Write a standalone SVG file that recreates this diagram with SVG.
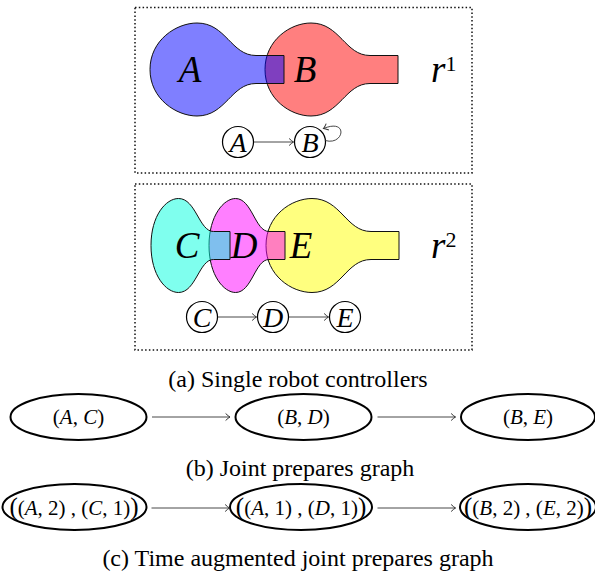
<svg xmlns="http://www.w3.org/2000/svg" width="595" height="581" viewBox="0 0 595 581">
<defs>
<style>
.box{fill:none;stroke:#111;stroke-width:1.5;stroke-dasharray:1.5 2.3}
.sh{stroke:#111;stroke-width:1;fill-opacity:0.5}
.big{font-family:"Liberation Serif",serif;font-style:italic;font-size:37px;fill:#000}
.sm{font-family:"Liberation Serif",serif;font-style:italic;font-size:28px;fill:#000}
.nd{fill:#fff;stroke:#000;stroke-width:1.2}
.el{fill:#fff;stroke:#000;stroke-width:2}
.m{font-family:"Liberation Serif",serif;font-size:21px;fill:#000}
.i{font-style:italic}
.cap{font-family:"Liberation Serif",serif;font-size:24px;fill:#000}
.ar{fill:none;stroke:#333;stroke-width:0.9}
</style>
<marker id="to" markerUnits="userSpaceOnUse" markerWidth="10" markerHeight="10" viewBox="-5 -4 6 8" refX="0" refY="0" orient="auto">
<path d="M-3.5,-2.8 Q-1.2,-0.6 0,0 Q-1.2,0.6 -3.5,2.8" fill="none" stroke="#333" stroke-width="0.8"/>
</marker>
</defs>

<g id="panel-a">
<rect class="box" x="135" y="7.5" width="337" height="165.5"/>
<g id="shape-B">
<path class="sh" fill="#ff0000" d="M398,55.5 L370,55.5 C345,55.5 340,23 311,23 C290.5,23 265,40 265,69.5 C265,99 290.5,116 311,116 C340,116 345,83.5 370,83.5 L398,83.5 Z"/>
</g>
<g id="shape-A">
<path class="sh" fill="#0000ff" d="M284,55.5 L256,55.5 C231,55.5 226,23 197,23 C176.5,23 150,40 150,69.5 C150,99 176.5,116 197,116 C226,116 231,83.5 256,83.5 L284,83.5 Z"/>
</g>
<text class="big" x="190" y="82" text-anchor="middle">A</text>
<text class="big" x="305" y="82" text-anchor="middle">B</text>
<text class="big" x="431" y="82">r<tspan font-style="normal" font-size="22" dy="-11">1</tspan></text>
<g id="node-A"><circle class="nd" cx="238" cy="142" r="15.5"/><text class="sm" x="238" y="151.5" text-anchor="middle">A</text></g>
<g id="node-B"><circle class="nd" cx="310" cy="142" r="15.5"/><text class="sm" x="310" y="151.5" text-anchor="middle">B</text></g>
</g>

<g id="panel-a2">
<rect class="box" x="135" y="184" width="337" height="166"/>
<g id="shape-E">
<path class="sh" fill="#ffff00" d="M399,231.5 L371,231.5 C346,231.5 341,198.5 312,198.5 C291.5,198.5 266,215.5 266,245.5 C266,275.5 291.5,292.5 312,292.5 C341,292.5 346,259.5 371,259.5 L399,259.5 Z"/>
</g>
<g id="shape-D">
<path class="sh" fill="#ff00ff" d="M285,231.5 L269,231.5 C255,231.5 252,198.5 235.5,198.5 C224,198.5 209,215.5 209,245.5 C209,275.5 224,292.5 235.5,292.5 C252,292.5 255,259.5 269,259.5 L285,259.5 Z"/>
</g>
<g id="shape-C">
<path class="sh" fill="#00ffdd" d="M230,231.5 L213.5,231.5 C199,231.5 196,198.5 178.5,198.5 C166,198.5 151,215.5 151,245.5 C151,275.5 166,292.5 178.5,292.5 C196,292.5 199,259.5 213.5,259.5 L230,259.5 Z"/>
</g>
<text class="big" x="187" y="258" text-anchor="middle">C</text>
<text class="big" x="244" y="258" text-anchor="middle">D</text>
<text class="big" x="301" y="258" text-anchor="middle">E</text>
<text class="big" x="431" y="258">r<tspan font-style="normal" font-size="22" dy="-11">2</tspan></text>
<g id="node-C"><circle class="nd" cx="202" cy="317" r="15.5"/><text class="sm" x="202" y="326.5" text-anchor="middle">C</text></g>
<g id="node-D"><circle class="nd" cx="273" cy="317" r="15.5"/><text class="sm" x="273" y="326.5" text-anchor="middle">D</text></g>
<g id="node-E"><circle class="nd" cx="345" cy="317" r="15.5"/><text class="sm" x="345" y="326.5" text-anchor="middle">E</text></g>
</g>

<g id="node-AC"><ellipse class="el" cx="78.5" cy="417" rx="68" ry="23"/><text class="m" x="78.5" y="424" text-anchor="middle">(<tspan class="i">A</tspan>, <tspan class="i">C</tspan>)</text></g>
<g id="node-BD"><ellipse class="el" cx="303.5" cy="417" rx="68" ry="23"/><text class="m" x="303.5" y="424" text-anchor="middle">(<tspan class="i">B</tspan>, <tspan class="i">D</tspan>)</text></g>
<g id="node-BE"><ellipse class="el" cx="528" cy="417" rx="67" ry="23"/><text class="m" x="528" y="424" text-anchor="middle">(<tspan class="i">B</tspan>, <tspan class="i">E</tspan>)</text></g>

<g id="node-A2C1"><ellipse class="el" cx="74.5" cy="507" rx="72" ry="23"/><text class="m" x="74" y="514.5" text-anchor="middle"><tspan font-size="25">(</tspan>(<tspan class="i">A</tspan>, 2) , (<tspan class="i">C</tspan>, 1)<tspan font-size="25">)</tspan></text></g>
<g id="node-A1D1"><ellipse class="el" cx="301" cy="507" rx="71" ry="23"/><text class="m" x="301" y="514.5" text-anchor="middle"><tspan font-size="25">(</tspan>(<tspan class="i">A</tspan>, 1) , (<tspan class="i">D</tspan>, 1)<tspan font-size="25">)</tspan></text></g>
<g id="node-B2E2"><ellipse class="el" cx="528" cy="507" rx="68" ry="23"/><text class="m" x="528" y="514.5" text-anchor="middle"><tspan font-size="25">(</tspan>(<tspan class="i">B</tspan>, 2) , (<tspan class="i">E</tspan>, 2)<tspan font-size="25">)</tspan></text></g>

<g id="connectors">
<line class="ar" x1="254" y1="142" x2="293.5" y2="142" marker-end="url(#to)"/>
<path class="ar" d="M325.2,140.5 C344,146 349,118 323.5,128.5" marker-end="url(#to)"/>
<line class="ar" x1="218" y1="317" x2="256.5" y2="317" marker-end="url(#to)"/>
<line class="ar" x1="289" y1="317" x2="328.5" y2="317" marker-end="url(#to)"/>
<line class="ar" x1="152" y1="417" x2="230" y2="417" marker-end="url(#to)"/>
<line class="ar" x1="377.5" y1="417" x2="455.5" y2="417" marker-end="url(#to)"/>
<line class="ar" x1="151.5" y1="508" x2="229.5" y2="508" marker-end="url(#to)"/>
<line class="ar" x1="377.5" y1="508" x2="455.5" y2="508" marker-end="url(#to)"/>
</g>

<text class="cap" x="298" y="387" text-anchor="middle">(a) Single robot controllers</text>
<text class="cap" x="300" y="476" text-anchor="middle">(b) Joint prepares graph</text>
<text class="cap" x="298" y="566" text-anchor="middle">(c) Time augmented joint prepares graph</text>
</svg>
